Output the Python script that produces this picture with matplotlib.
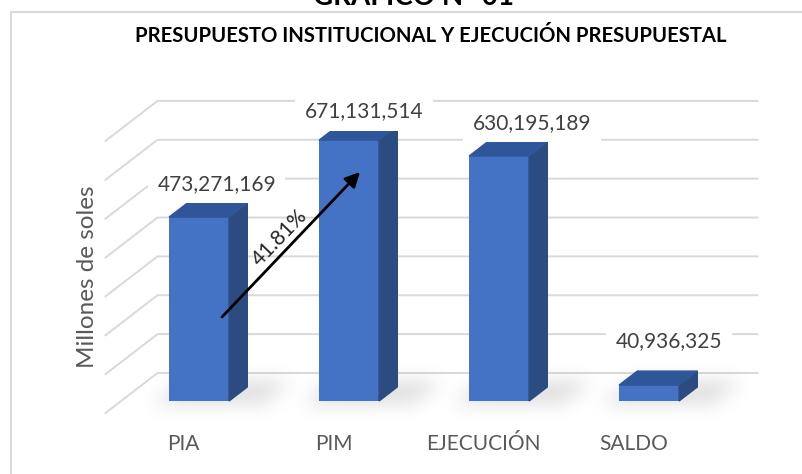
import numpy as np
import matplotlib
matplotlib.use("Agg")
import matplotlib.pyplot as plt
from matplotlib.lines import Line2D
from matplotlib.path import Path

# datos del grafico
categorias = ["PIA", "PIM", "EJECUCIÓN", "SALDO"]
montos = [473271169, 671131514, 630195189, 40936325]
etiquetas = ["473,271,169", "671,131,514", "630,195,189", "40,936,325"]
variacion = "41.81%"
grid_vals = [0, 100, 200, 300, 400, 500, 600, 700]   # millones

# posiciones de las etiquetas (px respecto al frente de la barra)
lab_dx = [17.5, 15, 33, 20]
lab_dy = [33, 29, 33, 44]

W, H = 803, 474
PX_X = 150.0      # px por categoria
PX_Y = 0.3887     # px por millon
X0, Y0 = 183.5, 413.0

fig = plt.figure(figsize=(W / 100, H / 100), dpi=100)
ax = fig.add_axes([0, 0, 1, 1])
xlim = (-X0 / PX_X, (W - X0) / PX_X)
ylim = ((Y0 - H) / PX_Y, Y0 / PX_Y)
ax.set_xlim(*xlim)
ax.set_ylim(*ylim)
ax.axis("off")

plt.rcParams['font.family'] = ['Lato', 'DejaVu Sans']

# proyeccion oblicua: z=0 frente, z=1 pared del fondo
DX = 52 / PX_X
DY = 40 / PX_Y


def proj(x, v, z):
    return (x + DX * z, v + DY * z)


# lineas de cuadricula (pared lateral + pared del fondo)
x_left, x_right = -0.52, 3.48
for g in grid_vals:
    p0 = proj(x_left, g, 0)
    p1 = proj(x_left, g, 1)
    p2 = proj(x_right, g, 1)
    ax.plot([p0[0], p1[0], p2[0]], [p0[1], p1[1], p2[1]],
            color="#d9d9d9", lw=1.4, zorder=1)

# sombra en el piso
xs = np.linspace(xlim[0], xlim[1], W)
ys = np.linspace(ylim[1], ylim[0], H)
gx, gy = np.meshgrid(xs, ys)
pts = np.column_stack([gx.ravel(), gy.ravel()])
mask = np.zeros(W * H)
for i in range(len(montos)):
    foot = [proj(i - 0.28, 0, 0.22), proj(i + 0.45, 0, 0.22),
            proj(i + 0.45, 0, 0.8), proj(i - 0.28, 0, 0.8)]
    mask = np.maximum(mask, Path(foot).contains_points(pts).astype(float))
mask = mask.reshape(H, W)
k = np.exp(-0.5 * (np.arange(-24, 25) / 9.0) ** 2)
k /= k.sum()
blur = np.apply_along_axis(lambda r: np.convolve(r, k, mode="same"), 1, mask)
blur = np.apply_along_axis(lambda c: np.convolve(c, k, mode="same"), 0, blur)
rgba = np.zeros((H, W, 4))
rgba[..., :3] = 0.55
rgba[..., 3] = 0.28 * blur
ax.imshow(rgba, extent=(xlim[0], xlim[1], ylim[0], ylim[1]), origin="upper",
          aspect="auto", zorder=2, interpolation="bilinear")

# barras 3D
Z0, Z1 = 0.3, 0.65
BW = 0.2
for i, m in enumerate(montos):
    v = m / 1e6
    ax.bar(i + DX * Z0, v, width=2 * BW, bottom=DY * Z0,
           color="#4472c4", zorder=3)
    side = [proj(i + BW, 0, Z0), proj(i + BW, v, Z0),
            proj(i + BW, v, Z1), proj(i + BW, 0, Z1)]
    top = [proj(i - BW, v, Z0), proj(i + BW, v, Z0),
           proj(i + BW, v, Z1), proj(i - BW, v, Z1)]
    ax.add_patch(plt.Polygon(side, closed=True, color="#2c4b80", zorder=3))
    ax.add_patch(plt.Polygon(top, closed=True, color="#30569a", zorder=3))

    fx, fy = proj(i, v, Z0)
    ax.text(fx + lab_dx[i] / PX_X, fy + lab_dy[i] / PX_Y, etiquetas[i],
            ha="center", va="center", fontsize=15, color="#404040", zorder=5,
            bbox=dict(boxstyle="square,pad=0.45", fc="white", ec="none"))

    lx, ly = proj(i, 0, 0)
    ax.text(lx, ly - 31 / PX_Y, categorias[i], ha="center", va="center",
            fontsize=15, color="#595959", zorder=5)

# flecha PIA -> PIM
ax.annotate("", xy=((360 - X0) / PX_X, (Y0 - 172) / PX_Y),
            xytext=((222 - X0) / PX_X, (Y0 - 317) / PX_Y),
            arrowprops=dict(arrowstyle="-|>", color="black", lw=2,
                            mutation_scale=22, shrinkA=0, shrinkB=0),
            zorder=6)
ax.text((280 - X0) / PX_X, (Y0 - 238) / PX_Y, variacion, rotation=46,
        rotation_mode="anchor", ha="center", va="center",
        fontsize=15, color="#262626", zorder=6)

# eje y
fig.text(88 / W, 1 - 277 / H, "Millones de soles", rotation=90,
         ha="center", va="center", fontsize=17.5, color="#595959")

# titulos
fig.text(431 / W, 1 - 42 / H,
         "PRESUPUESTO INSTITUCIONAL Y EJECUCIÓN PRESUPUESTAL",
         ha="center", va="baseline", fontsize=14.6, fontweight="bold",
         color="black")
fig.text(414 / W, 1 - 5 / H, "GRAFICO N° 01", ha="center", va="baseline",
         fontsize=20, fontweight="bold", color="black")

# borde del area del grafico
fig.add_artist(Line2D([11 / W, 11 / W], [0, 1 - 12 / H],
                      transform=fig.transFigure, color="#d9d9d9", lw=1.5))
fig.add_artist(Line2D([11 / W, 1], [1 - 12 / H, 1 - 12 / H],
                      transform=fig.transFigure, color="#d9d9d9", lw=1.5))

fig.savefig("out.png", dpi=100, facecolor="white")
